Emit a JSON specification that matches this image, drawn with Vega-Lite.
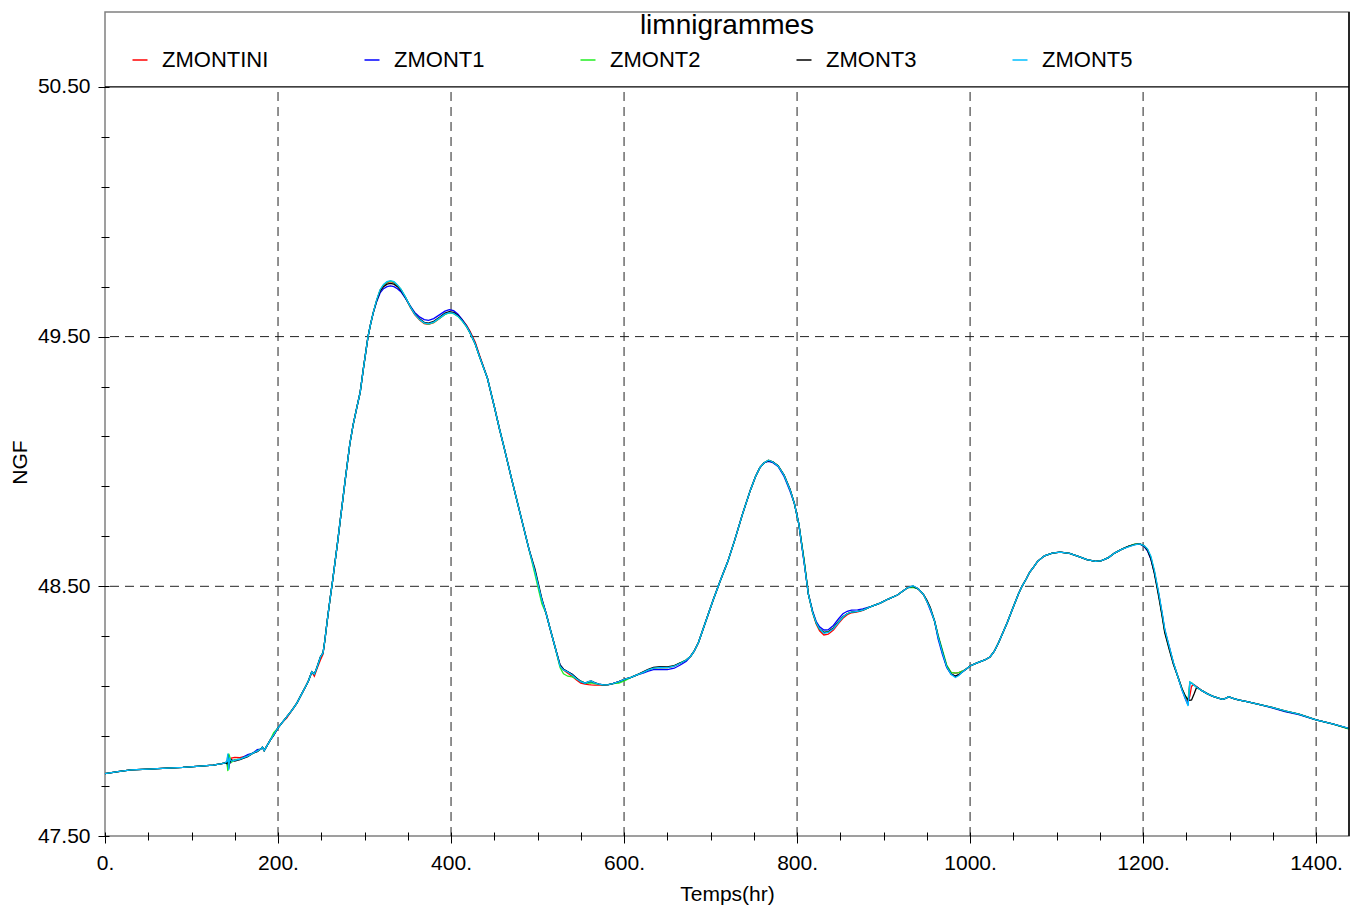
{
  "$schema": "https://vega.github.io/schema/vega-lite/v6.json",
  "width": 1244,
  "height": 824,
  "autosize": {"type": "none"},
  "padding": {"left": 105, "top": 12, "right": 12, "bottom": 73},
  "background": "white",
  "config": {
    "font": "Liberation Sans",
    "view": {"stroke": "#808080", "strokeWidth": 1.5},
    "legend": {
      "orient": "none", "legendX": 24, "legendY": 37, "direction": "horizontal",
      "symbolType": "stroke", "symbolSize": 225, "symbolStrokeWidth": 1.5,
      "labelFontSize": 22, "labelFont": "Liberation Sans", "labelColor": "black",
      "labelOffset": 11, "columnPadding": 92, "labelLimit": 300
    }
  },
  "title": {"text": "limnigrammes", "anchor": "middle", "frame": "group", "fontSize": 28, "fontWeight": "normal", "color": "black", "baseline": "alphabetic", "offset": -51},
  "datasets": {
    "grid_t": [{"t": 200}, {"t": 400}, {"t": 600}, {"t": 800}, {"t": 1000}, {"t": 1200}, {"t": 1400}],
    "grid_v": [{"v": 48.5}, {"v": 49.5}],
    "box_v": [{"v": 50.5}],
    "levels": [
      {"t":0,"ZMONTINI":47.750,"ZMONT1":47.750,"ZMONT2":47.750,"ZMONT3":47.750,"ZMONT5":47.750},
      {"t":15,"ZMONTINI":47.758,"ZMONT1":47.758,"ZMONT2":47.758,"ZMONT3":47.758,"ZMONT5":47.758},
      {"t":30,"ZMONTINI":47.765,"ZMONT1":47.765,"ZMONT2":47.765,"ZMONT3":47.765,"ZMONT5":47.765},
      {"t":50,"ZMONTINI":47.768,"ZMONT1":47.768,"ZMONT2":47.768,"ZMONT3":47.768,"ZMONT5":47.768},
      {"t":72,"ZMONTINI":47.772,"ZMONT1":47.772,"ZMONT2":47.772,"ZMONT3":47.772,"ZMONT5":47.772},
      {"t":90,"ZMONTINI":47.775,"ZMONT1":47.775,"ZMONT2":47.775,"ZMONT3":47.775,"ZMONT5":47.775},
      {"t":110,"ZMONTINI":47.780,"ZMONT1":47.780,"ZMONT2":47.780,"ZMONT3":47.780,"ZMONT5":47.780},
      {"t":125,"ZMONTINI":47.784,"ZMONT1":47.784,"ZMONT2":47.784,"ZMONT3":47.784,"ZMONT5":47.784},
      {"t":135,"ZMONTINI":47.790,"ZMONT1":47.790,"ZMONT2":47.790,"ZMONT3":47.790,"ZMONT5":47.790},
      {"t":139,"ZMONTINI":47.793,"ZMONT1":47.793,"ZMONT2":47.793,"ZMONT3":47.793,"ZMONT5":47.793},
      {"t":141,"ZMONTINI":47.790,"ZMONT1":47.800,"ZMONT2":47.795,"ZMONT3":47.790,"ZMONT5":47.800},
      {"t":142,"ZMONTINI":47.805,"ZMONT1":47.770,"ZMONT2":47.760,"ZMONT3":47.825,"ZMONT5":47.830},
      {"t":143,"ZMONTINI":47.795,"ZMONT1":47.825,"ZMONT2":47.830,"ZMONT3":47.770,"ZMONT5":47.765},
      {"t":144,"ZMONTINI":47.790,"ZMONT1":47.790,"ZMONT2":47.820,"ZMONT3":47.795,"ZMONT5":47.810},
      {"t":146,"ZMONTINI":47.812,"ZMONT1":47.800,"ZMONT2":47.795,"ZMONT3":47.805,"ZMONT5":47.800},
      {"t":150,"ZMONTINI":47.815,"ZMONT1":47.805,"ZMONT2":47.805,"ZMONT3":47.800,"ZMONT5":47.803},
      {"t":156,"ZMONTINI":47.814,"ZMONT1":47.808,"ZMONT2":47.808,"ZMONT3":47.806,"ZMONT5":47.808},
      {"t":165,"ZMONTINI":47.822,"ZMONT1":47.826,"ZMONT2":47.820,"ZMONT3":47.818,"ZMONT5":47.820},
      {"t":171,"ZMONTINI":47.832,"ZMONT1":47.832,"ZMONT2":47.832,"ZMONT3":47.832,"ZMONT5":47.832},
      {"t":176,"ZMONTINI":47.840,"ZMONT1":47.846,"ZMONT2":47.840,"ZMONT3":47.838,"ZMONT5":47.840},
      {"t":180,"ZMONTINI":47.848,"ZMONT1":47.848,"ZMONT2":47.848,"ZMONT3":47.848,"ZMONT5":47.848},
      {"t":182,"ZMONTINI":47.856,"ZMONT1":47.856,"ZMONT2":47.856,"ZMONT3":47.856,"ZMONT5":47.856},
      {"t":184,"ZMONTINI":47.842,"ZMONT1":47.842,"ZMONT2":47.842,"ZMONT3":47.842,"ZMONT5":47.842},
      {"t":187,"ZMONTINI":47.860,"ZMONT1":47.860,"ZMONT2":47.860,"ZMONT3":47.860,"ZMONT5":47.860},
      {"t":191,"ZMONTINI":47.884,"ZMONT1":47.884,"ZMONT2":47.884,"ZMONT3":47.884,"ZMONT5":47.884},
      {"t":195,"ZMONTINI":47.905,"ZMONT1":47.905,"ZMONT2":47.914,"ZMONT3":47.903,"ZMONT5":47.905},
      {"t":200,"ZMONTINI":47.933,"ZMONT1":47.933,"ZMONT2":47.933,"ZMONT3":47.933,"ZMONT5":47.933},
      {"t":205,"ZMONTINI":47.955,"ZMONT1":47.955,"ZMONT2":47.955,"ZMONT3":47.955,"ZMONT5":47.955},
      {"t":210,"ZMONTINI":47.972,"ZMONT1":47.977,"ZMONT2":47.977,"ZMONT3":47.977,"ZMONT5":47.977},
      {"t":216,"ZMONTINI":48.003,"ZMONT1":48.003,"ZMONT2":48.003,"ZMONT3":48.003,"ZMONT5":48.003},
      {"t":222,"ZMONTINI":48.033,"ZMONT1":48.033,"ZMONT2":48.033,"ZMONT3":48.033,"ZMONT5":48.033},
      {"t":226,"ZMONTINI":48.060,"ZMONT1":48.060,"ZMONT2":48.060,"ZMONT3":48.060,"ZMONT5":48.060},
      {"t":231,"ZMONTINI":48.093,"ZMONT1":48.093,"ZMONT2":48.093,"ZMONT3":48.093,"ZMONT5":48.093},
      {"t":235,"ZMONTINI":48.120,"ZMONT1":48.120,"ZMONT2":48.120,"ZMONT3":48.120,"ZMONT5":48.120},
      {"t":239,"ZMONTINI":48.157,"ZMONT1":48.157,"ZMONT2":48.157,"ZMONT3":48.157,"ZMONT5":48.157},
      {"t":242,"ZMONTINI":48.140,"ZMONT1":48.148,"ZMONT2":48.148,"ZMONT3":48.148,"ZMONT5":48.148},
      {"t":245,"ZMONTINI":48.170,"ZMONT1":48.175,"ZMONT2":48.175,"ZMONT3":48.175,"ZMONT5":48.175},
      {"t":249,"ZMONTINI":48.205,"ZMONT1":48.217,"ZMONT2":48.217,"ZMONT3":48.217,"ZMONT5":48.217},
      {"t":252,"ZMONTINI":48.228,"ZMONT1":48.233,"ZMONT2":48.233,"ZMONT3":48.233,"ZMONT5":48.233},
      {"t":254,"ZMONTINI":48.280,"ZMONT1":48.280,"ZMONT2":48.280,"ZMONT3":48.280,"ZMONT5":48.280},
      {"t":257,"ZMONTINI":48.365,"ZMONT1":48.365,"ZMONT2":48.365,"ZMONT3":48.365,"ZMONT5":48.365},
      {"t":260,"ZMONTINI":48.445,"ZMONT1":48.445,"ZMONT2":48.445,"ZMONT3":48.445,"ZMONT5":48.445},
      {"t":263,"ZMONTINI":48.520,"ZMONT1":48.520,"ZMONT2":48.520,"ZMONT3":48.520,"ZMONT5":48.520},
      {"t":266,"ZMONTINI":48.600,"ZMONT1":48.600,"ZMONT2":48.600,"ZMONT3":48.600,"ZMONT5":48.600},
      {"t":269,"ZMONTINI":48.680,"ZMONT1":48.680,"ZMONT2":48.680,"ZMONT3":48.680,"ZMONT5":48.680},
      {"t":272,"ZMONTINI":48.766,"ZMONT1":48.766,"ZMONT2":48.766,"ZMONT3":48.766,"ZMONT5":48.766},
      {"t":275,"ZMONTINI":48.850,"ZMONT1":48.850,"ZMONT2":48.850,"ZMONT3":48.850,"ZMONT5":48.850},
      {"t":278,"ZMONTINI":48.935,"ZMONT1":48.935,"ZMONT2":48.935,"ZMONT3":48.935,"ZMONT5":48.935},
      {"t":283,"ZMONTINI":49.070,"ZMONT1":49.070,"ZMONT2":49.070,"ZMONT3":49.070,"ZMONT5":49.070},
      {"t":287,"ZMONTINI":49.150,"ZMONT1":49.150,"ZMONT2":49.150,"ZMONT3":49.150,"ZMONT5":49.150},
      {"t":291,"ZMONTINI":49.215,"ZMONT1":49.215,"ZMONT2":49.215,"ZMONT3":49.215,"ZMONT5":49.215},
      {"t":295,"ZMONTINI":49.278,"ZMONT1":49.278,"ZMONT2":49.278,"ZMONT3":49.278,"ZMONT5":49.278},
      {"t":299,"ZMONTINI":49.380,"ZMONT1":49.380,"ZMONT2":49.380,"ZMONT3":49.380,"ZMONT5":49.380},
      {"t":304,"ZMONTINI":49.499,"ZMONT1":49.499,"ZMONT2":49.499,"ZMONT3":49.499,"ZMONT5":49.499},
      {"t":307,"ZMONTINI":49.550,"ZMONT1":49.550,"ZMONT2":49.550,"ZMONT3":49.550,"ZMONT5":49.550},
      {"t":310,"ZMONTINI":49.595,"ZMONT1":49.593,"ZMONT2":49.595,"ZMONT3":49.595,"ZMONT5":49.595},
      {"t":314,"ZMONTINI":49.645,"ZMONT1":49.640,"ZMONT2":49.645,"ZMONT3":49.643,"ZMONT5":49.647},
      {"t":318,"ZMONTINI":49.685,"ZMONT1":49.675,"ZMONT2":49.686,"ZMONT3":49.682,"ZMONT5":49.688},
      {"t":322,"ZMONTINI":49.705,"ZMONT1":49.692,"ZMONT2":49.707,"ZMONT3":49.700,"ZMONT5":49.709},
      {"t":326,"ZMONTINI":49.716,"ZMONT1":49.700,"ZMONT2":49.718,"ZMONT3":49.710,"ZMONT5":49.720},
      {"t":330,"ZMONTINI":49.720,"ZMONT1":49.703,"ZMONT2":49.722,"ZMONT3":49.713,"ZMONT5":49.724},
      {"t":334,"ZMONTINI":49.716,"ZMONT1":49.700,"ZMONT2":49.718,"ZMONT3":49.710,"ZMONT5":49.720},
      {"t":338,"ZMONTINI":49.704,"ZMONT1":49.692,"ZMONT2":49.706,"ZMONT3":49.700,"ZMONT5":49.707},
      {"t":342,"ZMONTINI":49.688,"ZMONT1":49.680,"ZMONT2":49.690,"ZMONT3":49.685,"ZMONT5":49.690},
      {"t":347,"ZMONTINI":49.658,"ZMONT1":49.655,"ZMONT2":49.660,"ZMONT3":49.658,"ZMONT5":49.660},
      {"t":353,"ZMONTINI":49.617,"ZMONT1":49.622,"ZMONT2":49.619,"ZMONT3":49.620,"ZMONT5":49.619},
      {"t":358,"ZMONTINI":49.588,"ZMONT1":49.597,"ZMONT2":49.590,"ZMONT3":49.592,"ZMONT5":49.590},
      {"t":364,"ZMONTINI":49.565,"ZMONT1":49.578,"ZMONT2":49.567,"ZMONT3":49.570,"ZMONT5":49.567},
      {"t":369,"ZMONTINI":49.552,"ZMONT1":49.568,"ZMONT2":49.554,"ZMONT3":49.557,"ZMONT5":49.555},
      {"t":374,"ZMONTINI":49.549,"ZMONT1":49.565,"ZMONT2":49.550,"ZMONT3":49.554,"ZMONT5":49.551},
      {"t":380,"ZMONTINI":49.556,"ZMONT1":49.572,"ZMONT2":49.557,"ZMONT3":49.561,"ZMONT5":49.558},
      {"t":387,"ZMONTINI":49.574,"ZMONT1":49.588,"ZMONT2":49.574,"ZMONT3":49.578,"ZMONT5":49.575},
      {"t":393,"ZMONTINI":49.590,"ZMONT1":49.602,"ZMONT2":49.589,"ZMONT3":49.594,"ZMONT5":49.590},
      {"t":398,"ZMONTINI":49.597,"ZMONT1":49.608,"ZMONT2":49.595,"ZMONT3":49.600,"ZMONT5":49.596},
      {"t":403,"ZMONTINI":49.595,"ZMONT1":49.604,"ZMONT2":49.592,"ZMONT3":49.597,"ZMONT5":49.593},
      {"t":408,"ZMONTINI":49.585,"ZMONT1":49.590,"ZMONT2":49.581,"ZMONT3":49.585,"ZMONT5":49.582},
      {"t":413,"ZMONTINI":49.567,"ZMONT1":49.568,"ZMONT2":49.562,"ZMONT3":49.565,"ZMONT5":49.563},
      {"t":418,"ZMONTINI":49.545,"ZMONT1":49.542,"ZMONT2":49.539,"ZMONT3":49.541,"ZMONT5":49.540},
      {"t":422,"ZMONTINI":49.521,"ZMONT1":49.516,"ZMONT2":49.514,"ZMONT3":49.516,"ZMONT5":49.515},
      {"t":428,"ZMONTINI":49.477,"ZMONT1":49.470,"ZMONT2":49.469,"ZMONT3":49.471,"ZMONT5":49.470},
      {"t":433,"ZMONTINI":49.425,"ZMONT1":49.419,"ZMONT2":49.418,"ZMONT3":49.420,"ZMONT5":49.419},
      {"t":442,"ZMONTINI":49.334,"ZMONT1":49.334,"ZMONT2":49.334,"ZMONT3":49.334,"ZMONT5":49.334},
      {"t":450,"ZMONTINI":49.220,"ZMONT1":49.220,"ZMONT2":49.220,"ZMONT3":49.220,"ZMONT5":49.220},
      {"t":456,"ZMONTINI":49.130,"ZMONT1":49.130,"ZMONT2":49.130,"ZMONT3":49.130,"ZMONT5":49.130},
      {"t":462,"ZMONTINI":49.046,"ZMONT1":49.046,"ZMONT2":49.046,"ZMONT3":49.046,"ZMONT5":49.046},
      {"t":470,"ZMONTINI":48.930,"ZMONT1":48.930,"ZMONT2":48.930,"ZMONT3":48.930,"ZMONT5":48.930},
      {"t":480,"ZMONTINI":48.790,"ZMONT1":48.790,"ZMONT2":48.790,"ZMONT3":48.790,"ZMONT5":48.790},
      {"t":490,"ZMONTINI":48.650,"ZMONT1":48.650,"ZMONT2":48.650,"ZMONT3":48.650,"ZMONT5":48.650},
      {"t":497,"ZMONTINI":48.560,"ZMONT1":48.560,"ZMONT2":48.548,"ZMONT3":48.570,"ZMONT5":48.560},
      {"t":505,"ZMONTINI":48.445,"ZMONT1":48.445,"ZMONT2":48.430,"ZMONT3":48.450,"ZMONT5":48.445},
      {"t":510,"ZMONTINI":48.390,"ZMONT1":48.390,"ZMONT2":48.390,"ZMONT3":48.390,"ZMONT5":48.390},
      {"t":514,"ZMONTINI":48.337,"ZMONT1":48.337,"ZMONT2":48.337,"ZMONT3":48.337,"ZMONT5":48.337},
      {"t":520,"ZMONTINI":48.260,"ZMONT1":48.260,"ZMONT2":48.260,"ZMONT3":48.260,"ZMONT5":48.260},
      {"t":526,"ZMONTINI":48.180,"ZMONT1":48.185,"ZMONT2":48.175,"ZMONT3":48.185,"ZMONT5":48.180},
      {"t":530,"ZMONTINI":48.165,"ZMONT1":48.168,"ZMONT2":48.150,"ZMONT3":48.168,"ZMONT5":48.165},
      {"t":535,"ZMONTINI":48.152,"ZMONT1":48.158,"ZMONT2":48.140,"ZMONT3":48.158,"ZMONT5":48.157},
      {"t":540,"ZMONTINI":48.140,"ZMONT1":48.148,"ZMONT2":48.137,"ZMONT3":48.148,"ZMONT5":48.145},
      {"t":545,"ZMONTINI":48.125,"ZMONT1":48.132,"ZMONT2":48.130,"ZMONT3":48.133,"ZMONT5":48.130},
      {"t":550,"ZMONTINI":48.112,"ZMONT1":48.120,"ZMONT2":48.120,"ZMONT3":48.118,"ZMONT5":48.118},
      {"t":555,"ZMONTINI":48.108,"ZMONT1":48.112,"ZMONT2":48.112,"ZMONT3":48.112,"ZMONT5":48.112},
      {"t":559,"ZMONTINI":48.106,"ZMONT1":48.114,"ZMONT2":48.112,"ZMONT3":48.118,"ZMONT5":48.118},
      {"t":562,"ZMONTINI":48.105,"ZMONT1":48.116,"ZMONT2":48.113,"ZMONT3":48.121,"ZMONT5":48.121},
      {"t":566,"ZMONTINI":48.104,"ZMONT1":48.112,"ZMONT2":48.110,"ZMONT3":48.114,"ZMONT5":48.113},
      {"t":571,"ZMONTINI":48.104,"ZMONT1":48.108,"ZMONT2":48.107,"ZMONT3":48.108,"ZMONT5":48.108},
      {"t":576,"ZMONTINI":48.104,"ZMONT1":48.105,"ZMONT2":48.105,"ZMONT3":48.105,"ZMONT5":48.105},
      {"t":582,"ZMONTINI":48.106,"ZMONT1":48.106,"ZMONT2":48.106,"ZMONT3":48.106,"ZMONT5":48.106},
      {"t":587,"ZMONTINI":48.110,"ZMONT1":48.110,"ZMONT2":48.110,"ZMONT3":48.110,"ZMONT5":48.110},
      {"t":594,"ZMONTINI":48.118,"ZMONT1":48.118,"ZMONT2":48.112,"ZMONT3":48.118,"ZMONT5":48.118},
      {"t":601,"ZMONTINI":48.128,"ZMONT1":48.126,"ZMONT2":48.122,"ZMONT3":48.128,"ZMONT5":48.128},
      {"t":608,"ZMONTINI":48.135,"ZMONT1":48.135,"ZMONT2":48.135,"ZMONT3":48.135,"ZMONT5":48.135},
      {"t":615,"ZMONTINI":48.145,"ZMONT1":48.145,"ZMONT2":48.145,"ZMONT3":48.145,"ZMONT5":48.145},
      {"t":622,"ZMONTINI":48.155,"ZMONT1":48.152,"ZMONT2":48.155,"ZMONT3":48.157,"ZMONT5":48.155},
      {"t":628,"ZMONTINI":48.165,"ZMONT1":48.160,"ZMONT2":48.165,"ZMONT3":48.167,"ZMONT5":48.165},
      {"t":634,"ZMONTINI":48.172,"ZMONT1":48.166,"ZMONT2":48.172,"ZMONT3":48.175,"ZMONT5":48.172},
      {"t":642,"ZMONTINI":48.175,"ZMONT1":48.167,"ZMONT2":48.175,"ZMONT3":48.178,"ZMONT5":48.175},
      {"t":650,"ZMONTINI":48.174,"ZMONT1":48.166,"ZMONT2":48.174,"ZMONT3":48.177,"ZMONT5":48.174},
      {"t":658,"ZMONTINI":48.180,"ZMONT1":48.172,"ZMONT2":48.181,"ZMONT3":48.182,"ZMONT5":48.180},
      {"t":665,"ZMONTINI":48.192,"ZMONT1":48.185,"ZMONT2":48.194,"ZMONT3":48.193,"ZMONT5":48.192},
      {"t":672,"ZMONTINI":48.205,"ZMONT1":48.200,"ZMONT2":48.206,"ZMONT3":48.205,"ZMONT5":48.205},
      {"t":677,"ZMONTINI":48.220,"ZMONT1":48.220,"ZMONT2":48.220,"ZMONT3":48.220,"ZMONT5":48.220},
      {"t":681,"ZMONTINI":48.240,"ZMONT1":48.240,"ZMONT2":48.240,"ZMONT3":48.240,"ZMONT5":48.240},
      {"t":686,"ZMONTINI":48.275,"ZMONT1":48.275,"ZMONT2":48.275,"ZMONT3":48.275,"ZMONT5":48.275},
      {"t":691,"ZMONTINI":48.325,"ZMONT1":48.325,"ZMONT2":48.325,"ZMONT3":48.325,"ZMONT5":48.325},
      {"t":697,"ZMONTINI":48.385,"ZMONT1":48.385,"ZMONT2":48.385,"ZMONT3":48.385,"ZMONT5":48.385},
      {"t":703,"ZMONTINI":48.445,"ZMONT1":48.445,"ZMONT2":48.445,"ZMONT3":48.445,"ZMONT5":48.445},
      {"t":711,"ZMONTINI":48.520,"ZMONT1":48.520,"ZMONT2":48.520,"ZMONT3":48.520,"ZMONT5":48.520},
      {"t":720,"ZMONTINI":48.600,"ZMONT1":48.600,"ZMONT2":48.600,"ZMONT3":48.600,"ZMONT5":48.600},
      {"t":728,"ZMONTINI":48.686,"ZMONT1":48.686,"ZMONT2":48.686,"ZMONT3":48.686,"ZMONT5":48.686},
      {"t":737,"ZMONTINI":48.790,"ZMONT1":48.790,"ZMONT2":48.790,"ZMONT3":48.790,"ZMONT5":48.790},
      {"t":746,"ZMONTINI":48.885,"ZMONT1":48.885,"ZMONT2":48.885,"ZMONT3":48.885,"ZMONT5":48.885},
      {"t":752,"ZMONTINI":48.940,"ZMONT1":48.940,"ZMONT2":48.940,"ZMONT3":48.940,"ZMONT5":48.940},
      {"t":757,"ZMONTINI":48.975,"ZMONT1":48.975,"ZMONT2":48.975,"ZMONT3":48.975,"ZMONT5":48.975},
      {"t":762,"ZMONTINI":48.995,"ZMONT1":48.995,"ZMONT2":48.995,"ZMONT3":48.995,"ZMONT5":48.995},
      {"t":767,"ZMONTINI":49.005,"ZMONT1":49.000,"ZMONT2":49.005,"ZMONT3":49.003,"ZMONT5":49.005},
      {"t":772,"ZMONTINI":48.998,"ZMONT1":48.995,"ZMONT2":48.998,"ZMONT3":48.998,"ZMONT5":48.998},
      {"t":778,"ZMONTINI":48.982,"ZMONT1":48.980,"ZMONT2":48.983,"ZMONT3":48.983,"ZMONT5":48.982},
      {"t":785,"ZMONTINI":48.945,"ZMONT1":48.940,"ZMONT2":48.945,"ZMONT3":48.946,"ZMONT5":48.945},
      {"t":792,"ZMONTINI":48.886,"ZMONT1":48.880,"ZMONT2":48.886,"ZMONT3":48.888,"ZMONT5":48.886},
      {"t":797,"ZMONTINI":48.830,"ZMONT1":48.830,"ZMONT2":48.830,"ZMONT3":48.830,"ZMONT5":48.830},
      {"t":802,"ZMONTINI":48.750,"ZMONT1":48.750,"ZMONT2":48.750,"ZMONT3":48.750,"ZMONT5":48.750},
      {"t":808,"ZMONTINI":48.600,"ZMONT1":48.600,"ZMONT2":48.610,"ZMONT3":48.605,"ZMONT5":48.600},
      {"t":813,"ZMONTINI":48.470,"ZMONT1":48.470,"ZMONT2":48.470,"ZMONT3":48.470,"ZMONT5":48.470},
      {"t":818,"ZMONTINI":48.395,"ZMONT1":48.400,"ZMONT2":48.395,"ZMONT3":48.397,"ZMONT5":48.395},
      {"t":822,"ZMONTINI":48.350,"ZMONT1":48.360,"ZMONT2":48.353,"ZMONT3":48.355,"ZMONT5":48.355},
      {"t":826,"ZMONTINI":48.322,"ZMONT1":48.338,"ZMONT2":48.328,"ZMONT3":48.330,"ZMONT5":48.330},
      {"t":831,"ZMONTINI":48.305,"ZMONT1":48.325,"ZMONT2":48.315,"ZMONT3":48.315,"ZMONT5":48.312},
      {"t":836,"ZMONTINI":48.308,"ZMONT1":48.326,"ZMONT2":48.318,"ZMONT3":48.317,"ZMONT5":48.315},
      {"t":842,"ZMONTINI":48.325,"ZMONT1":48.343,"ZMONT2":48.333,"ZMONT3":48.333,"ZMONT5":48.330},
      {"t":848,"ZMONTINI":48.352,"ZMONT1":48.370,"ZMONT2":48.358,"ZMONT3":48.358,"ZMONT5":48.356},
      {"t":853,"ZMONTINI":48.372,"ZMONT1":48.390,"ZMONT2":48.377,"ZMONT3":48.378,"ZMONT5":48.377},
      {"t":858,"ZMONTINI":48.386,"ZMONT1":48.400,"ZMONT2":48.390,"ZMONT3":48.390,"ZMONT5":48.390},
      {"t":863,"ZMONTINI":48.394,"ZMONT1":48.405,"ZMONT2":48.397,"ZMONT3":48.397,"ZMONT5":48.397},
      {"t":870,"ZMONTINI":48.398,"ZMONT1":48.406,"ZMONT2":48.400,"ZMONT3":48.400,"ZMONT5":48.400},
      {"t":876,"ZMONTINI":48.404,"ZMONT1":48.410,"ZMONT2":48.405,"ZMONT3":48.405,"ZMONT5":48.405},
      {"t":886,"ZMONTINI":48.420,"ZMONT1":48.420,"ZMONT2":48.420,"ZMONT3":48.420,"ZMONT5":48.420},
      {"t":896,"ZMONTINI":48.433,"ZMONT1":48.433,"ZMONT2":48.433,"ZMONT3":48.433,"ZMONT5":48.433},
      {"t":906,"ZMONTINI":48.450,"ZMONT1":48.450,"ZMONT2":48.450,"ZMONT3":48.450,"ZMONT5":48.450},
      {"t":916,"ZMONTINI":48.465,"ZMONT1":48.465,"ZMONT2":48.465,"ZMONT3":48.465,"ZMONT5":48.465},
      {"t":922,"ZMONTINI":48.480,"ZMONT1":48.480,"ZMONT2":48.480,"ZMONT3":48.480,"ZMONT5":48.480},
      {"t":928,"ZMONTINI":48.495,"ZMONT1":48.495,"ZMONT2":48.495,"ZMONT3":48.495,"ZMONT5":48.495},
      {"t":934,"ZMONTINI":48.500,"ZMONT1":48.498,"ZMONT2":48.496,"ZMONT3":48.500,"ZMONT5":48.502},
      {"t":940,"ZMONTINI":48.490,"ZMONT1":48.490,"ZMONT2":48.490,"ZMONT3":48.490,"ZMONT5":48.490},
      {"t":946,"ZMONTINI":48.468,"ZMONT1":48.468,"ZMONT2":48.468,"ZMONT3":48.468,"ZMONT5":48.468},
      {"t":950,"ZMONTINI":48.440,"ZMONT1":48.440,"ZMONT2":48.440,"ZMONT3":48.445,"ZMONT5":48.440},
      {"t":954,"ZMONTINI":48.410,"ZMONT1":48.405,"ZMONT2":48.412,"ZMONT3":48.415,"ZMONT5":48.410},
      {"t":959,"ZMONTINI":48.360,"ZMONT1":48.360,"ZMONT2":48.360,"ZMONT3":48.360,"ZMONT5":48.360},
      {"t":963,"ZMONTINI":48.300,"ZMONT1":48.290,"ZMONT2":48.305,"ZMONT3":48.300,"ZMONT5":48.298},
      {"t":968,"ZMONTINI":48.235,"ZMONT1":48.228,"ZMONT2":48.245,"ZMONT3":48.238,"ZMONT5":48.235},
      {"t":973,"ZMONTINI":48.180,"ZMONT1":48.175,"ZMONT2":48.185,"ZMONT3":48.178,"ZMONT5":48.178},
      {"t":978,"ZMONTINI":48.155,"ZMONT1":48.148,"ZMONT2":48.155,"ZMONT3":48.150,"ZMONT5":48.148},
      {"t":983,"ZMONTINI":48.152,"ZMONT1":48.140,"ZMONT2":48.152,"ZMONT3":48.140,"ZMONT5":48.135},
      {"t":987,"ZMONTINI":48.154,"ZMONT1":48.146,"ZMONT2":48.154,"ZMONT3":48.146,"ZMONT5":48.143},
      {"t":991,"ZMONTINI":48.160,"ZMONT1":48.157,"ZMONT2":48.160,"ZMONT3":48.157,"ZMONT5":48.157},
      {"t":996,"ZMONTINI":48.170,"ZMONT1":48.170,"ZMONT2":48.170,"ZMONT3":48.170,"ZMONT5":48.170},
      {"t":1000,"ZMONTINI":48.181,"ZMONT1":48.181,"ZMONT2":48.181,"ZMONT3":48.181,"ZMONT5":48.181},
      {"t":1006,"ZMONTINI":48.190,"ZMONT1":48.190,"ZMONT2":48.190,"ZMONT3":48.190,"ZMONT5":48.190},
      {"t":1011,"ZMONTINI":48.197,"ZMONT1":48.197,"ZMONT2":48.197,"ZMONT3":48.197,"ZMONT5":48.197},
      {"t":1017,"ZMONTINI":48.205,"ZMONT1":48.205,"ZMONT2":48.205,"ZMONT3":48.205,"ZMONT5":48.205},
      {"t":1023,"ZMONTINI":48.217,"ZMONT1":48.217,"ZMONT2":48.217,"ZMONT3":48.217,"ZMONT5":48.217},
      {"t":1028,"ZMONTINI":48.240,"ZMONT1":48.240,"ZMONT2":48.240,"ZMONT3":48.240,"ZMONT5":48.240},
      {"t":1033,"ZMONTINI":48.275,"ZMONT1":48.275,"ZMONT2":48.275,"ZMONT3":48.275,"ZMONT5":48.275},
      {"t":1038,"ZMONTINI":48.315,"ZMONT1":48.315,"ZMONT2":48.315,"ZMONT3":48.315,"ZMONT5":48.315},
      {"t":1043,"ZMONTINI":48.355,"ZMONT1":48.355,"ZMONT2":48.355,"ZMONT3":48.355,"ZMONT5":48.355},
      {"t":1048,"ZMONTINI":48.400,"ZMONT1":48.400,"ZMONT2":48.400,"ZMONT3":48.400,"ZMONT5":48.400},
      {"t":1052,"ZMONTINI":48.435,"ZMONT1":48.435,"ZMONT2":48.435,"ZMONT3":48.435,"ZMONT5":48.435},
      {"t":1056,"ZMONTINI":48.470,"ZMONT1":48.470,"ZMONT2":48.470,"ZMONT3":48.470,"ZMONT5":48.470},
      {"t":1060,"ZMONTINI":48.500,"ZMONT1":48.500,"ZMONT2":48.500,"ZMONT3":48.500,"ZMONT5":48.500},
      {"t":1065,"ZMONTINI":48.530,"ZMONT1":48.530,"ZMONT2":48.530,"ZMONT3":48.530,"ZMONT5":48.530},
      {"t":1069,"ZMONTINI":48.557,"ZMONT1":48.557,"ZMONT2":48.557,"ZMONT3":48.557,"ZMONT5":48.557},
      {"t":1074,"ZMONTINI":48.580,"ZMONT1":48.580,"ZMONT2":48.580,"ZMONT3":48.580,"ZMONT5":48.580},
      {"t":1078,"ZMONTINI":48.600,"ZMONT1":48.600,"ZMONT2":48.600,"ZMONT3":48.600,"ZMONT5":48.600},
      {"t":1086,"ZMONTINI":48.622,"ZMONT1":48.622,"ZMONT2":48.622,"ZMONT3":48.622,"ZMONT5":48.622},
      {"t":1095,"ZMONTINI":48.633,"ZMONT1":48.633,"ZMONT2":48.633,"ZMONT3":48.633,"ZMONT5":48.633},
      {"t":1104,"ZMONTINI":48.637,"ZMONT1":48.637,"ZMONT2":48.637,"ZMONT3":48.637,"ZMONT5":48.637},
      {"t":1115,"ZMONTINI":48.632,"ZMONT1":48.632,"ZMONT2":48.632,"ZMONT3":48.632,"ZMONT5":48.632},
      {"t":1125,"ZMONTINI":48.620,"ZMONT1":48.620,"ZMONT2":48.620,"ZMONT3":48.620,"ZMONT5":48.620},
      {"t":1135,"ZMONTINI":48.607,"ZMONT1":48.607,"ZMONT2":48.607,"ZMONT3":48.607,"ZMONT5":48.607},
      {"t":1145,"ZMONTINI":48.600,"ZMONT1":48.600,"ZMONT2":48.600,"ZMONT3":48.600,"ZMONT5":48.600},
      {"t":1152,"ZMONTINI":48.603,"ZMONT1":48.603,"ZMONT2":48.603,"ZMONT3":48.603,"ZMONT5":48.603},
      {"t":1160,"ZMONTINI":48.615,"ZMONT1":48.615,"ZMONT2":48.615,"ZMONT3":48.615,"ZMONT5":48.615},
      {"t":1167,"ZMONTINI":48.633,"ZMONT1":48.633,"ZMONT2":48.633,"ZMONT3":48.633,"ZMONT5":48.633},
      {"t":1175,"ZMONTINI":48.648,"ZMONT1":48.648,"ZMONT2":48.648,"ZMONT3":48.648,"ZMONT5":48.648},
      {"t":1183,"ZMONTINI":48.660,"ZMONT1":48.660,"ZMONT2":48.660,"ZMONT3":48.660,"ZMONT5":48.658},
      {"t":1190,"ZMONTINI":48.668,"ZMONT1":48.668,"ZMONT2":48.669,"ZMONT3":48.667,"ZMONT5":48.666},
      {"t":1196,"ZMONTINI":48.670,"ZMONT1":48.670,"ZMONT2":48.670,"ZMONT3":48.670,"ZMONT5":48.670},
      {"t":1201,"ZMONTINI":48.663,"ZMONT1":48.660,"ZMONT2":48.663,"ZMONT3":48.662,"ZMONT5":48.663},
      {"t":1205,"ZMONTINI":48.648,"ZMONT1":48.642,"ZMONT2":48.648,"ZMONT3":48.645,"ZMONT5":48.650},
      {"t":1209,"ZMONTINI":48.615,"ZMONT1":48.608,"ZMONT2":48.617,"ZMONT3":48.610,"ZMONT5":48.620},
      {"t":1213,"ZMONTINI":48.560,"ZMONT1":48.555,"ZMONT2":48.560,"ZMONT3":48.552,"ZMONT5":48.565},
      {"t":1218,"ZMONTINI":48.470,"ZMONT1":48.470,"ZMONT2":48.468,"ZMONT3":48.460,"ZMONT5":48.475},
      {"t":1222,"ZMONTINI":48.390,"ZMONT1":48.390,"ZMONT2":48.385,"ZMONT3":48.380,"ZMONT5":48.395},
      {"t":1225,"ZMONTINI":48.325,"ZMONT1":48.325,"ZMONT2":48.320,"ZMONT3":48.315,"ZMONT5":48.330},
      {"t":1230,"ZMONTINI":48.258,"ZMONT1":48.260,"ZMONT2":48.255,"ZMONT3":48.250,"ZMONT5":48.262},
      {"t":1235,"ZMONTINI":48.193,"ZMONT1":48.193,"ZMONT2":48.193,"ZMONT3":48.188,"ZMONT5":48.195},
      {"t":1240,"ZMONTINI":48.140,"ZMONT1":48.140,"ZMONT2":48.140,"ZMONT3":48.140,"ZMONT5":48.140},
      {"t":1245,"ZMONTINI":48.088,"ZMONT1":48.085,"ZMONT2":48.088,"ZMONT3":48.090,"ZMONT5":48.085},
      {"t":1249,"ZMONTINI":48.055,"ZMONT1":48.048,"ZMONT2":48.058,"ZMONT3":48.060,"ZMONT5":48.050},
      {"t":1252,"ZMONTINI":48.038,"ZMONT1":48.025,"ZMONT2":48.045,"ZMONT3":48.045,"ZMONT5":48.021},
      {"t":1254,"ZMONTINI":48.060,"ZMONT1":48.112,"ZMONT2":48.117,"ZMONT3":48.043,"ZMONT5":48.117},
      {"t":1256,"ZMONTINI":48.100,"ZMONT1":48.112,"ZMONT2":48.114,"ZMONT3":48.045,"ZMONT5":48.113},
      {"t":1259,"ZMONTINI":48.106,"ZMONT1":48.105,"ZMONT2":48.104,"ZMONT3":48.070,"ZMONT5":48.104},
      {"t":1262,"ZMONTINI":48.098,"ZMONT1":48.097,"ZMONT2":48.095,"ZMONT3":48.097,"ZMONT5":48.096},
      {"t":1268,"ZMONTINI":48.082,"ZMONT1":48.082,"ZMONT2":48.082,"ZMONT3":48.082,"ZMONT5":48.082},
      {"t":1274,"ZMONTINI":48.070,"ZMONT1":48.070,"ZMONT2":48.070,"ZMONT3":48.070,"ZMONT5":48.070},
      {"t":1280,"ZMONTINI":48.060,"ZMONT1":48.060,"ZMONT2":48.060,"ZMONT3":48.060,"ZMONT5":48.060},
      {"t":1287,"ZMONTINI":48.052,"ZMONT1":48.052,"ZMONT2":48.052,"ZMONT3":48.052,"ZMONT5":48.052},
      {"t":1292,"ZMONTINI":48.047,"ZMONT1":48.047,"ZMONT2":48.047,"ZMONT3":48.047,"ZMONT5":48.047},
      {"t":1296,"ZMONTINI":48.052,"ZMONT1":48.052,"ZMONT2":48.052,"ZMONT3":48.052,"ZMONT5":48.052},
      {"t":1299,"ZMONTINI":48.058,"ZMONT1":48.058,"ZMONT2":48.058,"ZMONT3":48.058,"ZMONT5":48.058},
      {"t":1303,"ZMONTINI":48.052,"ZMONT1":48.052,"ZMONT2":48.052,"ZMONT3":48.052,"ZMONT5":48.052},
      {"t":1310,"ZMONTINI":48.045,"ZMONT1":48.045,"ZMONT2":48.045,"ZMONT3":48.045,"ZMONT5":48.045},
      {"t":1320,"ZMONTINI":48.038,"ZMONT1":48.038,"ZMONT2":48.038,"ZMONT3":48.038,"ZMONT5":48.038},
      {"t":1335,"ZMONTINI":48.026,"ZMONT1":48.026,"ZMONT2":48.026,"ZMONT3":48.026,"ZMONT5":48.026},
      {"t":1350,"ZMONTINI":48.014,"ZMONT1":48.012,"ZMONT2":48.014,"ZMONT3":48.014,"ZMONT5":48.014},
      {"t":1364,"ZMONTINI":48.001,"ZMONT1":47.998,"ZMONT2":48.001,"ZMONT3":48.000,"ZMONT5":48.001},
      {"t":1380,"ZMONTINI":47.988,"ZMONT1":47.986,"ZMONT2":47.988,"ZMONT3":47.988,"ZMONT5":47.988},
      {"t":1400,"ZMONTINI":47.965,"ZMONT1":47.965,"ZMONT2":47.965,"ZMONT3":47.965,"ZMONT5":47.965},
      {"t":1420,"ZMONTINI":47.948,"ZMONT1":47.948,"ZMONT2":47.948,"ZMONT3":47.948,"ZMONT5":47.948},
      {"t":1438,"ZMONTINI":47.930,"ZMONT1":47.930,"ZMONT2":47.928,"ZMONT3":47.930,"ZMONT5":47.931}
    ]
  },
  "layer": [
    {
      "data": {"name": "grid_t"},
      "mark": {"type": "rule", "color": "#222222", "strokeWidth": 1, "strokeDash": [9, 6]},
      "encoding": {
        "x": {"field": "t", "type": "quantitative", "scale": {"domain": [0, 1438], "nice": false, "zero": false}},
        "y": {"datum": 47.5, "type": "quantitative", "scale": {"domain": [47.5, 50.8], "nice": false, "zero": false}},
        "y2": {"datum": 50.5}
      }
    },
    {
      "data": {"name": "grid_v"},
      "mark": {"type": "rule", "color": "#222222", "strokeWidth": 1, "strokeDash": [9, 6]},
      "encoding": {
        "y": {"field": "v", "type": "quantitative", "scale": {"domain": [47.5, 50.8], "nice": false, "zero": false}}
      }
    },
    {
      "data": {"name": "box_v"},
      "mark": {"type": "rule", "color": "black", "strokeWidth": 1.2},
      "encoding": {
        "y": {"field": "v", "type": "quantitative", "scale": {"domain": [47.5, 50.8], "nice": false, "zero": false}}
      }
    },
    {
      "data": {"name": "levels"},
      "transform": [{"fold": ["ZMONTINI", "ZMONT1", "ZMONT2", "ZMONT3", "ZMONT5"], "as": ["series", "v"]}],
      "encoding": {
        "x": {
          "field": "t", "type": "quantitative",
          "scale": {"domain": [0, 1438], "nice": false, "zero": false},
          "axis": {
            "title": "Temps(hr)",
            "values": [0, 50, 100, 150, 200, 250, 300, 350, 400, 450, 500, 550, 600, 650, 700, 750, 800, 850, 900, 950, 1000, 1050, 1100, 1150, 1200, 1250, 1300, 1350, 1400],
            "labelExpr": "datum.value % 200 == 0 ? datum.value + '.' : ''",
            "tickSize": {"condition": {"test": "datum.value % 200 == 0", "value": 11}, "value": 8},
            "tickColor": "black", "tickWidth": 1,
            "offset": -4, "domain": false, "grid": false,
            "labelFlush": false, "labelOverlap": false, "labelBound": false,
            "labelFontSize": 21, "labelColor": "black", "labelPadding": 9,
            "titleFontSize": 21, "titleFontWeight": "normal", "titleColor": "black", "titlePadding": 10,
            "zindex": 2
          }
        },
        "y": {
          "field": "v", "type": "quantitative",
          "scale": {"domain": [47.5, 50.8], "nice": false, "zero": false},
          "axis": {
            "title": "NGF",
            "values": [47.5, 47.7, 47.9, 48.1, 48.3, 48.5, 48.7, 48.9, 49.1, 49.3, 49.5, 49.7, 49.9, 50.1, 50.3, 50.5],
            "labelExpr": "round(datum.value * 10) % 10 == 5 ? format(datum.value, '.2f') : ''",
            "tickSize": {"condition": {"test": "round(datum.value * 10) % 10 == 5", "value": 11}, "value": 8},
            "tickColor": "black", "tickWidth": 1,
            "offset": -4, "domain": false, "grid": false,
            "labelFlush": false, "labelOverlap": false, "labelBound": false,
            "labelFontSize": 21, "labelColor": "black", "labelPadding": 8,
            "titleFontSize": 21, "titleFontWeight": "normal", "titleColor": "black",
            "titleX": -79, "titleY": 450,
            "zindex": 2
          }
        },
        "color": {
          "field": "series", "type": "nominal",
          "scale": {"domain": ["ZMONTINI", "ZMONT1", "ZMONT2", "ZMONT3", "ZMONT5"], "range": ["#ff0000", "#0000ff", "#22ee22", "#000000", "#00bfff"]},
          "legend": {"title": null}
        }
      },
      "layer": [
        {"transform": [{"filter": "datum.series == 'ZMONTINI'"}], "mark": {"type": "line", "strokeWidth": 1.3}},
        {"transform": [{"filter": "datum.series == 'ZMONT1'"}], "mark": {"type": "line", "strokeWidth": 1.3}},
        {"transform": [{"filter": "datum.series == 'ZMONT2'"}], "mark": {"type": "line", "strokeWidth": 1.3}},
        {"transform": [{"filter": "datum.series == 'ZMONT3'"}], "mark": {"type": "line", "strokeWidth": 1.3}},
        {"transform": [{"filter": "datum.series == 'ZMONT5'"}], "mark": {"type": "line", "strokeWidth": 1.3}}
      ]
    },
    {
      "data": {"values": [{"k": 1}]},
      "mark": {"type": "rule", "color": "black", "strokeWidth": 1.5},
      "encoding": {
        "x": {"datum": 1438, "type": "quantitative", "scale": {"domain": [0, 1438], "nice": false, "zero": false}},
        "y": {"datum": 47.5, "type": "quantitative", "scale": {"domain": [47.5, 50.8], "nice": false, "zero": false}},
        "y2": {"datum": 50.8}
      }
    }
  ]
}
